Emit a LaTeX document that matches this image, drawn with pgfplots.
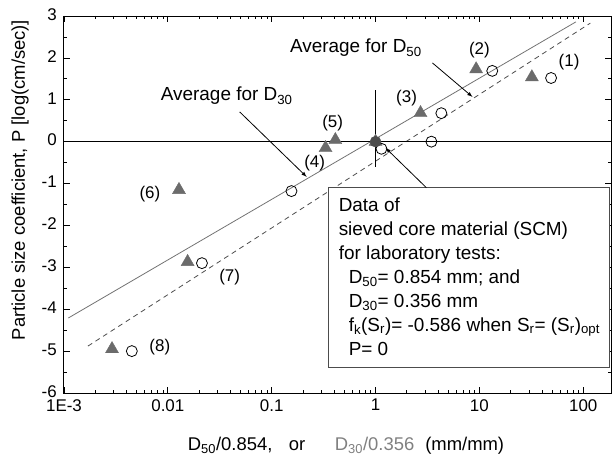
\documentclass[border=0pt]{standalone}
\usepackage{fontspec}
\setmainfont{Liberation Sans}
\usepackage{pgfplots}
\pgfplotsset{compat=1.18}
\definecolor{tri}{gray}{0.42}
\definecolor{sline}{gray}{0.45}
\definecolor{dline}{gray}{0.3}
\definecolor{lab}{gray}{0.5}
\begin{document}
\begin{tikzpicture}
\useasboundingbox (-64bp,-64bp) rectangle (548bp,393bp);
\begin{axis}[
 at={(0,0)}, anchor=south west,
 scale only axis, width=547bp, height=377bp,
 xmode=log, xmin=0.001, xmax=185, ymin=-6, ymax=3,
 clip=false,
 xtick={0.001,0.01,0.1,1,10,100},
 xticklabels={1E-3,0.01,0.1,1,10,100},
 minor xtick={0.002,0.003,0.004,0.005,0.006,0.007,0.008,0.009,
  0.02,0.03,0.04,0.05,0.06,0.07,0.08,0.09,
  0.2,0.3,0.4,0.5,0.6,0.7,0.8,0.9,
  2,3,4,5,6,7,8,9,20,30,40,50,60,70,80,90},
 ytick={-6,-5,-4,-3,-2,-1,0,1,2,3},
 yticklabels={-6,-5,-4,-3,-2,-1,0,1,2,3},
 minor ytick={-5.5,-4.5,-3.5,-2.5,-1.5,-0.5,0.5,1.5,2.5},
 tick align=inside, major tick length=6bp, minor tick length=3.5bp,
 tick style={black, line width=0.7pt},
 axis line style={line width=1pt},
 ticklabel style={font=\fontsize{17}{20}\selectfont, inner sep=1bp},
 xticklabel style={yshift=-5bp},
 yticklabel style={xshift=-6bp, yshift=1.5bp},
]
% average lines
\addplot[sline, line width=0.8pt] coordinates {(0.0011,-4.21) (85,2.86)};
\addplot[dline, line width=0.8pt, dash pattern=on 5bp off 4bp] coordinates {(0.0017,-4.88) (117,2.83)};
% zero line and vertical line
\addplot[black, line width=1.3pt] coordinates {(0.001,0) (185,0)};
\addplot[black, line width=0.7pt] coordinates {(1,1.23) (1,-0.6)};
% D50 triangles
\addplot[only marks, mark=triangle*, mark size=7.5bp, mark options={fill=tri, draw=tri}] coordinates {
 (32,1.54) (9.3,1.73) (2.71,0.685) (0.41,0.04) (0.33,-0.15) (0.0128,-1.15) (0.0155,-2.87) (0.0029,-4.95) (1,0)};
% D30 circles
\addplot[only marks, mark=o, mark size=5.5bp, mark options={fill=white, draw=black, line width=0.8pt}] coordinates {
 (49,1.52) (13.3,1.69) (4.3,0.68) (3.45,0) (1.14,-0.17) (0.155,-1.18) (0.0213,-2.9) (0.0045,-5.0)};
\addplot[only marks, mark=*, mark size=5.5bp, mark options={fill=dline, draw=dline}] coordinates {(1,0)};
% point numbers
\begin{scope}[font=\fontsize{17}{20}\selectfont]
\node at (axis cs:73,1.90) {(1)};
\node at (axis cs:10,2.19) {(2)};
\node at (axis cs:1.99,1.04) {(3)};
\node at (axis cs:0.259,-0.51) {(4)};
\node at (axis cs:0.386,0.45) {(5)};
\node at (axis cs:0.00671,-1.25) {(6)};
\node at (axis cs:0.0394,-3.23) {(7)};
\node at (axis cs:0.00837,-4.9) {(8)};
\end{scope}
% annotations
\node[font=\fontsize{19}{22}\selectfont] at (axis cs:0.646,2.24) {Average for D\textsubscript{50}};
\node[font=\fontsize{19}{22}\selectfont] at (axis cs:0.0369,1.09) {Average for D\textsubscript{30}};
\draw[-latex, line width=0.8pt] (axis cs:3.53,1.88) -- (axis cs:8.57,1.07);
\draw[-latex, line width=0.8pt] (axis cs:0.0492,0.71) -- (axis cs:0.217,-0.84);
\draw[fill=white, draw=black!70, line width=0.8pt] (axis cs:0.353,-1.10) rectangle (axis cs:178,-5.38);
\draw[-latex, line width=0.8pt] (axis cs:3.09,-1.10) -- (axis cs:1.25,-0.15);
\node[anchor=north west, align=left, inner sep=0pt, font=\fontsize{19}{24}\selectfont] at (axis cs:0.353,-1.10) [xshift=10bp, yshift=-10bp] {Data of\\
sieved core material (SCM)\\
for laboratory tests:\\
\hspace*{10bp}D\textsubscript{50}= 0.854 mm; and\\
\hspace*{10bp}D\textsubscript{30}= 0.356 mm\\
\hspace*{10bp}f\textsubscript{k}(S\textsubscript{r})= -0.586 when S\textsubscript{r}= (S\textsubscript{r})\textsubscript{opt}\\
\hspace*{10bp}P= 0};
\end{axis}
\node[rotate=90, font=\fontsize{18.5}{20}\selectfont] at (-44bp,213bp) {Particle size coefficient, P [log(cm/sec)]};
\node[anchor=base, font=\fontsize{18.5}{20}\selectfont] at (282bp,-57bp) {D\textsubscript{50}/0.854,\hspace{0.9em}or\hspace{1.6em}{\color{lab}D\textsubscript{30}/0.356}\hspace{0.6em}(mm/mm)};
\end{tikzpicture}
\end{document}
